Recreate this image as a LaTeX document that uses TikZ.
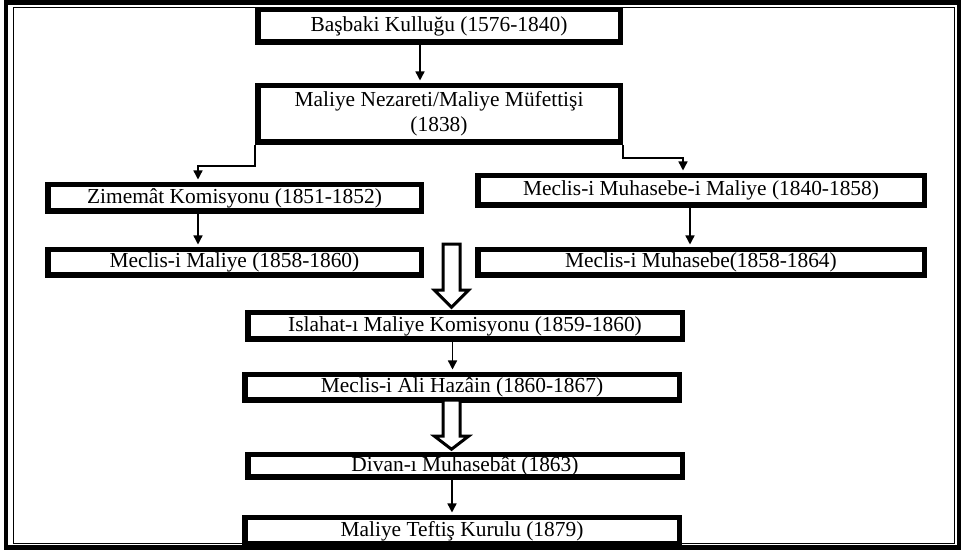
\documentclass[tikz,border=0pt]{standalone}
\usepackage{fontspec}
\setmainfont{Liberation Serif}
\usetikzlibrary{arrows.meta}
\begin{document}
\begin{tikzpicture}[x=1pt,y=1pt,
  kutu/.style={draw=drawColor,line width=5.5pt,inner sep=0pt,fill=fillColor,
    font=\fontsize{21.4}{25}\selectfont,align=center},
  ok/.style={draw=drawColor,line width=1.4pt,shorten >=2.5pt,
    -{Triangle[length=9pt,width=9pt]}},
  bosok/.style={draw=drawColor,line width=3pt,fill=fillColor,line join=miter}]
\definecolor{fillColor}{RGB}{255,255,255}
\definecolor{drawColor}{RGB}{0,0,0}
\path[use as bounding box,fill=fillColor] (0,0) rectangle (962,551);

% cerceve
\path[draw=drawColor,line width=4.5pt] (  6.0,  3.5) rectangle (959.0,548.5);
\path[draw=drawColor,line width=1.5pt] ( 13.5,  7.5) rectangle (954.5,543.5);

% kutular
\node[kutu,minimum width=362.5pt,minimum height=32.5pt] (basbaki) at (439.0,525.0) {Başbaki Kulluğu (1576-1840)};
\node[kutu,minimum width=362.5pt,minimum height=56.5pt] (nezaret) at (439.0,437.0) {Maliye Nezareti/Maliye Müfettişi\\(1838)};
\node[kutu,minimum width=373.5pt,minimum height=26.5pt] (zimemat) at (234.5,353.0) {Zimemât Komisyonu (1851-1852)};
\node[kutu,minimum width=446.5pt,minimum height=29.5pt] (muhmaliye) at (701.0,360.5) {Meclis-i Muhasebe-i Maliye (1840-1858)};
\node[kutu,minimum width=373.5pt,minimum height=25.5pt] (mmaliye) at (234.5,288.5) {Meclis-i Maliye (1858-1860)};
\node[kutu,minimum width=446.5pt,minimum height=25.5pt] (muhasebe) at (701.0,288.5) {Meclis-i Muhasebe(1858-1864)};
\node[kutu,minimum width=434.5pt,minimum height=26.5pt] (islahat) at (465.0,225.0) {Islahat-ı Maliye Komisyonu (1859-1860)};
\node[kutu,minimum width=434.5pt,minimum height=25.5pt] (alihazain) at (462.0,163.5) {Meclis-i Ali Hazâin (1860-1867)};
\node[kutu,minimum width=434.5pt,minimum height=22.5pt] (divan) at (465.0, 85.0) {Divan-ı Muhasebât (1863)};
\node[kutu,minimum width=434.5pt,minimum height=26.5pt] (teftis) at (462.0, 20.0) {Maliye Teftiş Kurulu (1879)};

% oklar
\draw[ok] ([xshift=-19pt]basbaki.south) -- ([xshift=-19pt]nezaret.north);
\draw[ok] (nezaret.south west) -- ++(0,-21) -| ([xshift=-36.5pt]zimemat.north);
\draw[ok] (nezaret.south east) -- ++(0,-13) -| ([xshift=-18pt]muhmaliye.north);
\draw[ok] ([xshift=-36.5pt]zimemat.south) -- ([xshift=-36.5pt]mmaliye.north);
\draw[ok] ([xshift=-11pt]muhmaliye.south) -- ([xshift=-11pt]muhasebe.north);
\draw[ok] ([xshift=-12.5pt]islahat.south) -- ([xshift=-9.5pt]alihazain.north);
\draw[ok] ([xshift=-13pt]divan.south) -- ([xshift=-10pt]teftis.north);

% bos oklar
\path[bosok] ([xshift=-13.5pt,yshift=2.75pt]islahat.north) -- ++(-17,17) -- ++(8.5,0) -- ++(0,46)
  -- ++(17,0) -- ++(0,-46) -- ++(8.5,0) -- cycle;
\path[bosok] ([xshift=-13.5pt,yshift=2.75pt]divan.north) -- ++(-17,13) -- ++(8.5,0) -- ++(0,36)
  -- ++(17,0) -- ++(0,-36) -- ++(8.5,0) -- cycle;
\end{tikzpicture}
\end{document}
